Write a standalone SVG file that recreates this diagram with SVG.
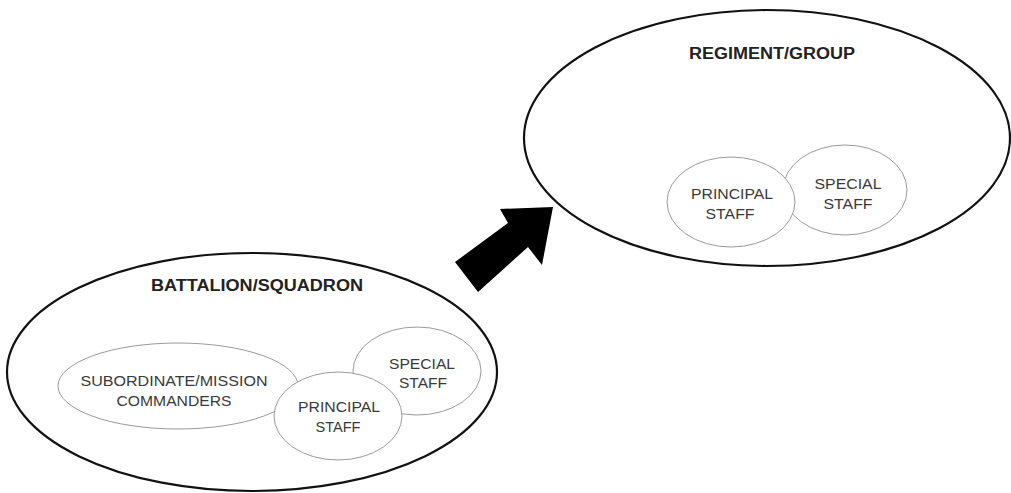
<svg xmlns="http://www.w3.org/2000/svg" width="1011" height="493" viewBox="0 0 1011 493">
<style>
.big{fill:none;stroke:#111;stroke-width:2.2}
.small{fill:#fff;stroke:#9a9a9a;stroke-width:1}
.h{font-family:"Liberation Sans",Arial,sans-serif;font-weight:bold;font-size:16px;fill:#222;text-anchor:middle}
.t{font-family:"Liberation Sans",Arial,sans-serif;font-size:14.5px;fill:#3a3a3a;text-anchor:middle}
</style>
<rect width="1011" height="493" fill="#fff"/>
<g id="battalion">
<ellipse class="big" cx="252" cy="372" rx="245" ry="119"/>
<text class="h" x="257" y="291" textLength="212" lengthAdjust="spacingAndGlyphs">BATTALION/SQUADRON</text>
</g>
<g id="subordinate">
<ellipse class="small" cx="178" cy="386" rx="120" ry="43"/>
<text class="t" x="174" y="386" textLength="187" lengthAdjust="spacingAndGlyphs">SUBORDINATE/MISSION</text>
<text class="t" x="174" y="406" textLength="115" lengthAdjust="spacingAndGlyphs">COMMANDERS</text>
</g>
<g id="special-left">
<ellipse class="small" cx="417" cy="371" rx="64" ry="44"/>
<text class="t" x="422" y="369" textLength="66" lengthAdjust="spacingAndGlyphs">SPECIAL</text>
<text class="t" x="423" y="388" textLength="48" lengthAdjust="spacingAndGlyphs">STAFF</text>
</g>
<g id="principal-left">
<ellipse class="small" cx="338" cy="416" rx="64" ry="44"/>
<text class="t" x="339" y="412" textLength="82" lengthAdjust="spacingAndGlyphs">PRINCIPAL</text>
<text class="t" x="338" y="432" textLength="45" lengthAdjust="spacingAndGlyphs">STAFF</text>
</g>
<g id="regiment">
<ellipse class="big" cx="767" cy="138" rx="243" ry="128"/>
<text class="h" x="772" y="59" textLength="166" lengthAdjust="spacingAndGlyphs">REGIMENT/GROUP</text>
</g>
<g id="special-right">
<ellipse class="small" cx="845" cy="190" rx="62" ry="45"/>
<text class="t" x="848" y="189" textLength="67" lengthAdjust="spacingAndGlyphs">SPECIAL</text>
<text class="t" x="848" y="209" textLength="49" lengthAdjust="spacingAndGlyphs">STAFF</text>
</g>
<g id="principal-right">
<ellipse class="small" cx="731" cy="202" rx="64" ry="45"/>
<text class="t" x="732" y="199" textLength="82" lengthAdjust="spacingAndGlyphs">PRINCIPAL</text>
<text class="t" x="730" y="219" textLength="49" lengthAdjust="spacingAndGlyphs">STAFF</text>
</g>
<g id="connectors">
<polygon points="455,262 508,223 500,209 553,207 542,265 528,247 478,292" fill="#000"/>
</g>
</svg>
